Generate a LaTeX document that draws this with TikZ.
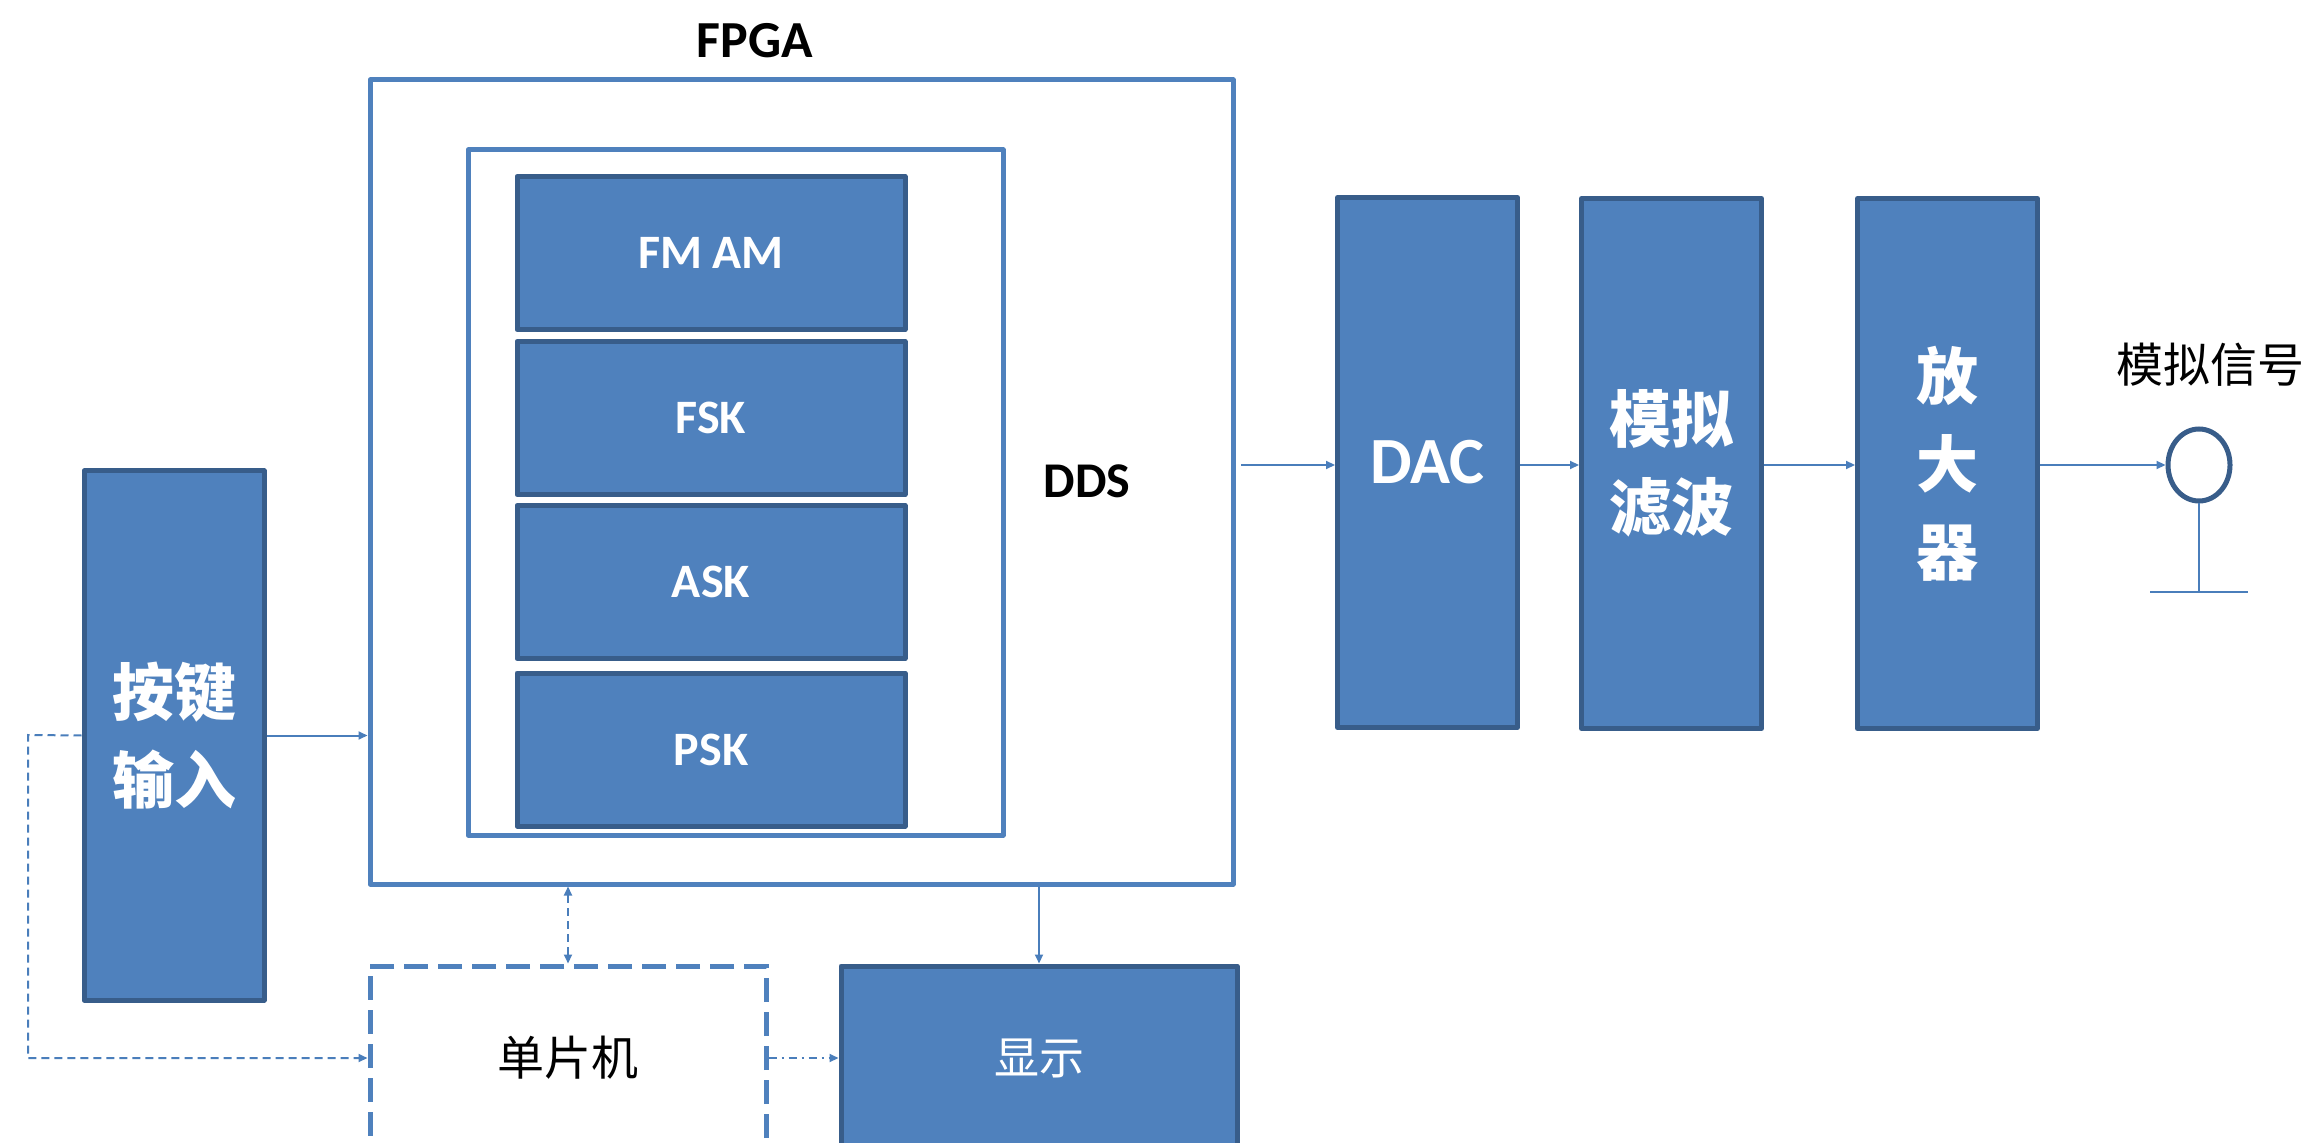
\documentclass[tikz,border=0pt]{standalone}
\usepackage{fontspec}
\setmainfont{Carlito}
\newfontfamily\cjk{Noto Sans CJK SC}
\usetikzlibrary{arrows.meta,shapes.geometric}
\definecolor{bfill}{HTML}{4F81BD}
\definecolor{dkb}{HTML}{385D8A}
\definecolor{bline}{HTML}{4A7EBB}
\tikzset{
  blk/.style={draw=dkb, fill=bfill, line width=2.5pt, line join=round, inner sep=0pt, text=white, align=center},
  frm/.style={draw=bfill, line width=2.5pt, line join=round, inner sep=0pt},
  modbox/.style={blk, minimum width=194pt, minimum height=76.5pt, font=\bfseries\fontsize{24}{28}\selectfont},
  tallbox/.style={blk, minimum width=90pt, minimum height=265pt},
  cjkbig/.style={font=\cjk\bfseries\fontsize{31}{44}\selectfont},
  conn/.style={draw=bline, line width=1pt, -{Triangle[length=4.5pt,width=4pt]}},
  dconn/.style={conn, dash pattern=on 4pt off 2.5pt},
  ddconn/.style={conn, dash pattern=on 4pt off 2.5pt on 1pt off 2.5pt},
}
\begin{document}
\begin{tikzpicture}[x=0.5pt,y=-0.5pt]
\useasboundingbox (0,0) rectangle (2310,1143);
% FPGA
\node[font=\bfseries\fontsize{26}{30}\selectfont] (fpgalbl) at (755,41) {FPGA};
\node[frm, minimum width=431.5pt, minimum height=402pt] (fpga) at (801.5,482) {};
\node[frm, minimum width=267.5pt, minimum height=342.5pt] (dds) at (735.5,492.5) {};
\node[font=\bfseries\fontsize{25}{30}\selectfont] (ddslbl) at (1087,481) {DDS};
\node[modbox] (fmam) at (711,253) {FM AM};
\node[modbox] (fsk) at (711,418) {FSK};
\node[modbox] (ask) at (711,582) {ASK};
\node[modbox] (psk) at (711,749.5) {PSK};
% key input
\node[blk, cjkbig, minimum width=90pt, minimum height=264.5pt] (key) at (174,735.5) {按键\\输入};
% MCU and display
\node[draw=bfill, line width=2.5pt, dash pattern=on 12pt off 5pt, inner sep=0pt,
      minimum width=198pt, minimum height=92pt,
      font=\cjk\fontsize{23.5}{28}\selectfont] (mcu) at (568,1058) {单片机};
\node[blk, minimum width=198pt, minimum height=92pt, font=\cjk\fontsize{22.5}{28}\selectfont] (disp) at (1039,1058) {显示};
% signal chain
\node[tallbox, font=\bfseries\fontsize{33}{40}\selectfont] (dac) at (1427.5,462.5) {DAC};
\node[tallbox, cjkbig] (flt) at (1671.5,463.5) {模拟\\滤波};
\node[tallbox, cjkbig] (amp) at (1947.5,463.5) {放\\大\\器};
\node[draw=dkb, line width=2.5pt, ellipse, inner sep=0pt, minimum width=31pt, minimum height=36pt] (sig) at (2199,465) {};
\node[font=\cjk\fontsize{23.5}{28}\selectfont] (siglbl) at (2210,365) {模拟信号};
\coordinate (gnd) at (2199,592);
\coordinate (gl) at (2150,592);
\coordinate (gr) at (2248,592);
\coordinate (fo) at (1241,465);
\coordinate (lx) at (28,735);
% connectors
\draw[conn] (fo) -- (fo -| dac.west);
\draw[conn] (dac.east |- fo) -- (flt.west |- fo);
\draw[conn] (flt.east |- fo) -- (amp.west |- fo);
\draw[conn] (amp.east |- fo) -- (sig.west);
\draw[draw=bline, line width=1pt] (sig.south) -- (gnd);
\draw[draw=bline, line width=1pt] (gl) -- (gr);
\draw[conn] (key.east) -- (key.east -| fpga.west);
\draw[dconn] (key.west) -- (lx) |- (mcu.west);
\draw[dconn, {Triangle[length=4.5pt,width=4pt]}-{Triangle[length=4.5pt,width=4pt]}] (mcu.north |- fpga.south) -- (mcu.north);
\draw[conn] (disp.north |- fpga.south) -- (disp.north);
\draw[ddconn] (mcu.east) -- (disp.west);
\end{tikzpicture}
\end{document}
